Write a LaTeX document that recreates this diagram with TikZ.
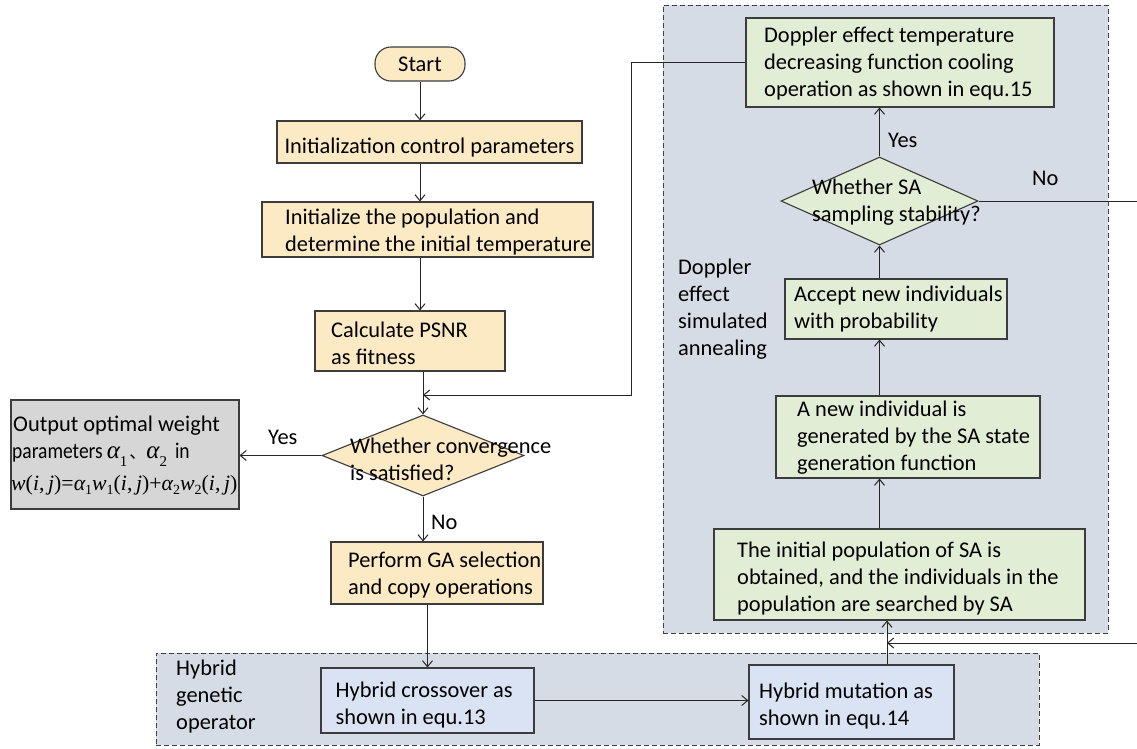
\documentclass[tikz,border=0pt]{standalone}
\usepackage{fontspec}
\setmainfont{Carlito}
\newfontfamily\tms{Liberation Serif}
\newfontfamily\cjk{Noto Sans CJK SC}
\usetikzlibrary{arrows.meta,shapes.geometric}

\definecolor{boxbeige}{RGB}{252,234,196}
\definecolor{boxgreen}{RGB}{226,237,214}
\definecolor{boxblue}{RGB}{218,227,243}
\definecolor{panel}{RGB}{214,220,229}
\definecolor{boxgray}{RGB}{214,214,214}
\definecolor{edge}{RGB}{60,60,60}

% first-line strut: fixes the distance from the top of a text block to its first baseline
\newcommand{\st}{\rule{0pt}{18.9pt}}
% pieces of the weight formula
\newcommand{\vi}[1]{{\itshape #1}}
\newcommand{\sbx}[1]{\raisebox{-4.5pt}{\fontsize{14}{14}\selectfont\upshape #1}}
\newcommand{\bigalpha}[1]{{\tms\itshape\fontsize{25}{27}\selectfont α}\raisebox{-8pt}{\tms\fontsize{15}{15}\selectfont #1}}
\newcommand{\narrow}[1]{\scalebox{0.87}[1]{#1}}

\begin{document}
\begin{tikzpicture}[x=1pt,y=-1pt,
  every node/.style={font=\fontsize{22.4}{27}\selectfont},
  box/.style={draw=edge, line width=1.1pt, inner sep=0pt},
  beige/.style={box, fill=boxbeige},
  green/.style={box, fill=boxgreen},
  blue/.style={box, fill=boxblue},
  decide/.style={box, shape=diamond},
  panelbox/.style={draw=black!75, line width=1pt, dash pattern=on 5pt off 3pt, fill=panel, inner sep=0pt},
  tx/.style={anchor=north west, align=left, inner sep=0pt},
  lbl/.style={anchor=base west, inner sep=0pt},
  arr/.style={draw=black!85, line width=1pt, -{Straight Barb[length=6pt,width=10pt]}}]

\useasboundingbox (0,0) rectangle (1137,748);
\fill[white] (0,0) rectangle (1137,748);
\clip (0,0) rectangle (1137,748);

% ---------- background panels ----------
\node[panelbox, minimum width=445pt, minimum height=628pt] (sapanel) at (885.5,319) {};
\node[panelbox, minimum width=883pt, minimum height=92pt] (hybpanel) at (597.5,699) {};
\node[tx] (sapanel-t) at (678,255.1) {\st Doppler\\effect\\simulated\\annealing};
\node[tx] (hybpanel-t) at (176,656.1) {\st Hybrid\\genetic\\operator};

% ---------- main genetic flow ----------
\node[beige, rounded corners=16pt, minimum width=90pt, minimum height=34pt] (start) at (420,64) {Start};
\node[beige, minimum width=305pt, minimum height=42pt] (init) at (429.5,142) {};
\node[anchor=base, inner sep=0pt] (init-t) at (429.5,153) {Initialization control parameters};
\node[beige, minimum width=331pt, minimum height=55pt] (pop) at (427.5,229.5) {};
\node[tx] (pop-t) at (285,205.1) {\st Initialize the population and\\determine the initial temperature};
\node[beige, minimum width=190pt, minimum height=60pt] (psnr) at (410,341) {};
\node[tx] (psnr-t) at (331,318.1) {\st Calculate PSNR\\as fitness};
\node[decide, fill=boxbeige, minimum width=202pt, minimum height=81pt] (conv) at (423,455.5) {};
\node[tx] (conv-t) at (350,434.1) {\st Whether convergence\\is satisfied?};
\node[beige, minimum width=212pt, minimum height=62pt] (ga) at (437,573) {};
\node[tx] (ga-t) at (348,548.1) {\st Perform GA selection\\and copy operations};

% ---------- result ----------
\node[box, fill=boxgray, minimum width=228pt, minimum height=109pt] (out) at (125,454.5) {};
\node[lbl] (out-l1) at (13,431) {Output optimal weight};
\node[lbl] (out-l2) at (12,458) {\narrow{parameters}\hspace{4pt}\bigalpha{1}\hspace{2pt}{\cjk\fontsize{17}{17}\selectfont 、}\bigalpha{2}\hspace{8pt}\narrow{in}};
\node[lbl] (out-l3) at (11,490) {\tms\fontsize{21.8}{22}\selectfont
  \vi{w}(\vi{i},\,\vi{j})=\vi{α}\sbx{1}\vi{w}\sbx{1}(\vi{i},\,\vi{j})+\vi{α}\sbx{2}\vi{w}\sbx{2}(\vi{i},\,\vi{j})};

% ---------- hybrid genetic operator ----------
\node[blue, minimum width=213pt, minimum height=65pt] (cross) at (427.5,700.5) {};
\node[tx] (cross-t) at (335.5,678.1) {\st Hybrid crossover as\\shown in equ.13};
\node[blue, minimum width=205pt, minimum height=74pt] (mut) at (851.5,702) {};
\node[tx] (mut-t) at (759,679.1) {\st Hybrid mutation as\\shown in equ.14};

% ---------- Doppler simulated annealing ----------
\node[green, minimum width=308pt, minimum height=89pt] (cool) at (900,62.5) {};
\node[tx] (cool-t) at (764,23.1) {\st Doppler effect temperature\\decreasing function cooling\\operation as shown in equ.15};
\node[decide, fill=boxgreen, minimum width=197pt, minimum height=88pt] (sa) at (879.5,201) {};
\node[tx] (sa-t) at (812,175.1) {\st Whether SA\\sampling stability?};
\node[green, minimum width=222pt, minimum height=60pt] (accept) at (896,309) {};
\node[tx] (accept-t) at (794,282.1) {\st Accept new individuals\\with probability};
\node[green, minimum width=264pt, minimum height=82pt] (newind) at (908,437) {};
\node[tx] (newind-t) at (797,397.1) {\st A new individual is\\generated by the SA state\\generation function};
\node[green, minimum width=371pt, minimum height=91pt] (initpop) at (899.5,574.5) {};
\node[tx] (initpop-t) at (737,538.1) {\st The initial population of SA is\\obtained, and the individuals in the\\population are searched by SA};

% ---------- branch labels ----------
\node[lbl] (yes1) at (268,444) {Yes};
\node[lbl] (no1) at (431,529) {No};
\node[lbl] (yes2) at (888,147) {Yes};
\node[lbl] (no2) at (1032,185) {No};

% ---------- routing points ----------
\coordinate (fbl) at (631,395);
\coordinate (jn) at (887,643);
\coordinate (fbr) at (1150,643);

% ---------- connectors ----------
\draw[arr] (start.south) -- (start.south |- init.north);
\draw[arr] (init.south -| start.south) -- (start.south |- pop.north);
\draw[arr] (pop.south -| start.south) -- (start.south |- psnr.north);
\draw[arr] (psnr.south -| conv.north) -- (conv.north);
\draw[arr] (cool.west) -- (cool.west -| fbl) -- (fbl) -- (fbl -| conv.north);
\draw[arr] (conv.west) -- (conv.west -| out.east);
\draw[arr] (conv.south) -- (conv.south |- ga.north);
\draw[arr] (ga.south -| cross.north) -- (cross.north);
\draw[arr] (cross.east) -- (cross.east -| mut.west);
\draw[arr] (mut.north -| jn) -- (jn |- initpop.south);
\draw[arr] (sa.east) -- (sa.east -| fbr) -- (fbr) -- (jn);
\draw[arr] (initpop.north -| sa.south) -- (sa.south |- newind.south);
\draw[arr] (newind.north -| sa.south) -- (sa.south |- accept.south);
\draw[arr] (accept.north -| sa.south) -- (sa.south);
\draw[arr] (sa.north) -- (sa.north |- cool.south);

\end{tikzpicture}
\end{document}
